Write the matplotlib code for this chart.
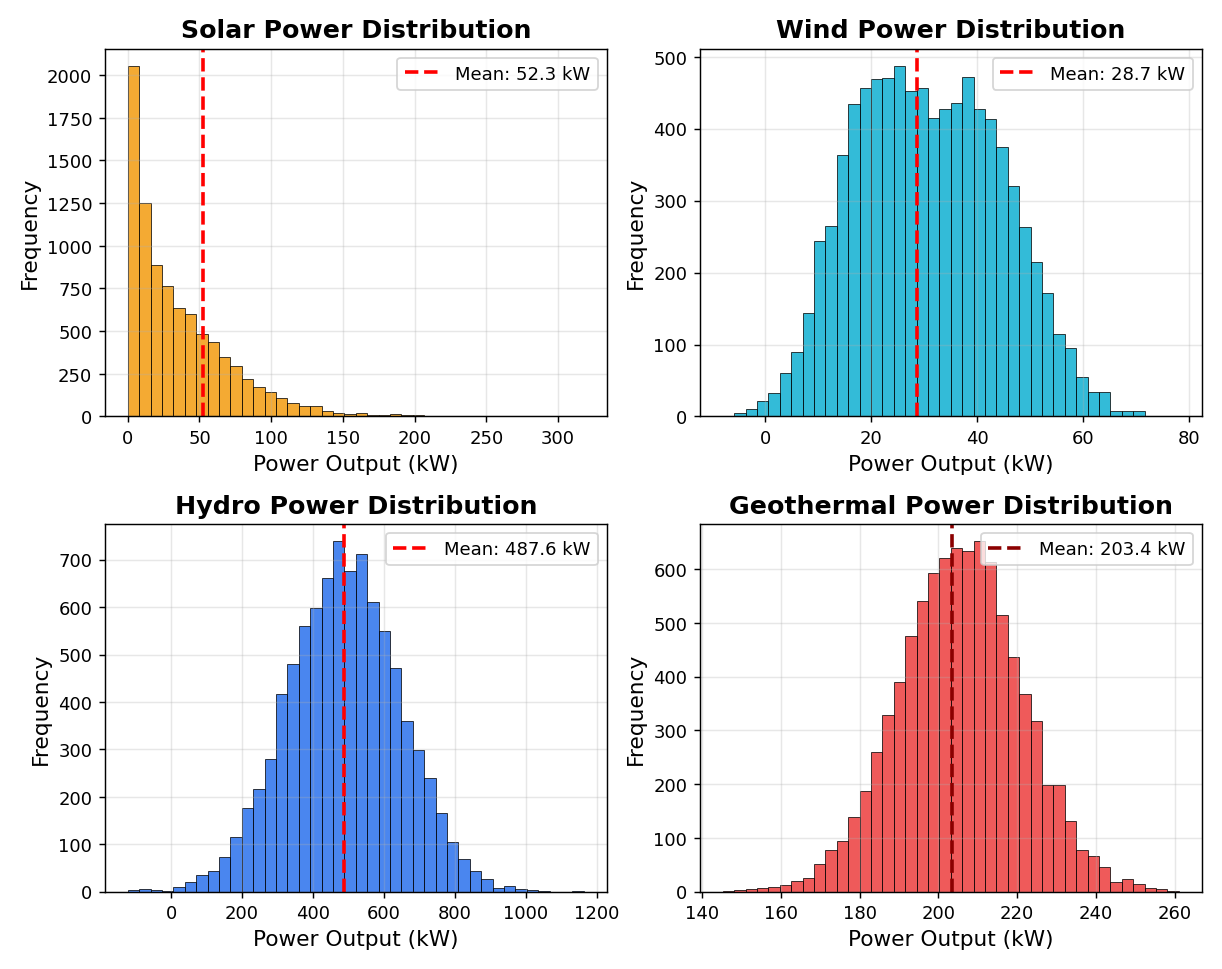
import numpy as np
import matplotlib.pyplot as plt

# histogram counts (40 bins each)
solar_range = (0.0, 318.0)
solar_counts = [2053, 1249, 885, 766, 634, 600, 486, 435, 350, 293,
                218, 170, 142, 110, 81, 62, 62, 32, 23, 13,
                22, 9, 6, 15, 9, 8, 4, 2, 1, 1,
                0, 1, 0, 0, 1, 0, 0, 0, 0, 1]

wind_range = (-8.0, 78.0)
wind_counts = [1, 5, 10, 21, 32, 60, 90, 144, 244, 265,
               363, 434, 457, 469, 470, 487, 453, 457, 415, 427,
               436, 472, 428, 413, 374, 320, 263, 215, 172, 115,
               95, 55, 34, 34, 8, 7, 8, 0, 0, 1]

hydro_range = (-122.0, 1163.0)
hydro_counts = [3, 5, 3, 1, 10, 20, 36, 44, 74, 115,
                177, 216, 279, 417, 480, 561, 599, 661, 739, 676,
                713, 611, 550, 471, 360, 298, 240, 165, 104, 69,
                44, 27, 8, 12, 5, 3, 2, 0, 0, 2]

geo_range = (145.3, 261.0)
geo_counts = [2, 3, 4, 6, 8, 12, 19, 25, 51, 78,
              94, 139, 187, 259, 328, 390, 476, 540, 593, 621,
              639, 633, 652, 613, 514, 437, 368, 318, 199, 199,
              132, 78, 66, 45, 18, 24, 15, 6, 5, 2]

titles = ['Solar Power Distribution', 'Wind Power Distribution',
          'Hydro Power Distribution', 'Geothermal Power Distribution']
means = [52.3, 28.7, 487.6, 203.4]
colors = ['#F29500', '#00AACF', '#1D68EC', '#EC3131']
mean_colors = ['red', 'red', 'red', 'darkred']

fig, axes = plt.subplots(2, 2, figsize=(9.40, 7.46), dpi=130)

data = [(solar_range, solar_counts), (wind_range, wind_counts),
        (hydro_range, hydro_counts), (geo_range, geo_counts)]

for ax, (rng, counts), title, mean, col, mcol in zip(axes.flat, data, titles, means, colors, mean_colors):
    edges = np.linspace(rng[0], rng[1], len(counts) + 1)
    centers = (edges[:-1] + edges[1:]) / 2
    ax.hist(centers, bins=edges, weights=counts, color=col, alpha=0.8,
            edgecolor='black', linewidth=0.5)
    ax.axvline(mean, color=mcol, linestyle='--', linewidth=2,
               label=f'Mean: {mean:.1f} kW')
    ax.set_title(title, fontsize=14, fontweight='bold')
    ax.set_xlabel('Power Output (kW)', fontsize=12)
    ax.set_ylabel('Frequency', fontsize=12)
    ax.legend(loc='upper right')
    ax.grid(True, alpha=0.3)

plt.tight_layout()
plt.savefig('out.png', dpi=130)
